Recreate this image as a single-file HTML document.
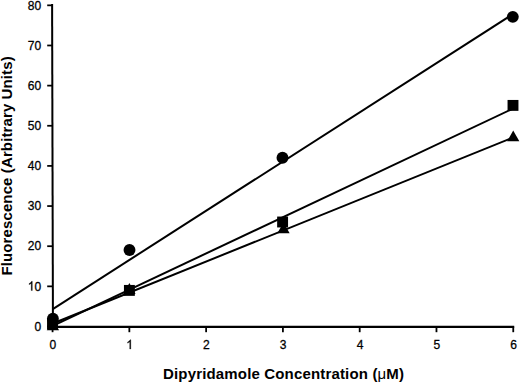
<!DOCTYPE html>
<html><head><meta charset="utf-8"><style>
html,body{margin:0;padding:0;background:#fff;}
body{width:520px;height:383px;overflow:hidden;}
svg{display:block;}
.t{font-family:"Liberation Sans",sans-serif;font-size:13.4px;fill:#000;stroke:#000;stroke-width:0.3px;}
.ti{font-family:"Liberation Sans",sans-serif;font-size:15px;font-weight:bold;fill:#000;}
.mu{font-weight:normal;}
</style></head><body>
<svg width="520" height="383" viewBox="0 0 520 383">
<line x1="52.1" y1="4.1" x2="52.95" y2="327.9" stroke="#000" stroke-width="2.0"/>
<line x1="52" y1="326.85" x2="514.2" y2="326.85" stroke="#000" stroke-width="2.1"/>
<line x1="47.2" y1="326.49" x2="52.97" y2="326.49" stroke="#000" stroke-width="1.75"/>
<text transform="translate(41.2,330.69) scale(0.9,1)" text-anchor="end" class="t">0</text>
<line x1="47.2" y1="286.35" x2="52.86" y2="286.35" stroke="#000" stroke-width="1.75"/>
<text transform="translate(41.2,290.55) scale(0.9,1)" text-anchor="end" class="t">0</text>
<path transform="translate(27.79,290.55) scale(0.005889,-0.006543)" d="M763 0L583 0L583 1102C540 1063 483 1023 413 984C342 945 279 916 223 897L223 1064C324 1110 412 1165 488 1229C563 1294 617 1357 648 1409L763 1409Z" fill="#000" stroke="#000" stroke-width="0.3" vector-effect="non-scaling-stroke"/>
<line x1="47.2" y1="246.20" x2="52.75" y2="246.20" stroke="#000" stroke-width="1.75"/>
<text transform="translate(41.2,250.40) scale(0.9,1)" text-anchor="end" class="t">20</text>
<line x1="47.2" y1="206.06" x2="52.64" y2="206.06" stroke="#000" stroke-width="1.75"/>
<text transform="translate(41.2,210.25) scale(0.9,1)" text-anchor="end" class="t">30</text>
<line x1="47.2" y1="165.91" x2="52.53" y2="165.91" stroke="#000" stroke-width="1.75"/>
<text transform="translate(41.2,170.11) scale(0.9,1)" text-anchor="end" class="t">40</text>
<line x1="47.2" y1="125.77" x2="52.43" y2="125.77" stroke="#000" stroke-width="1.75"/>
<text transform="translate(41.2,129.97) scale(0.9,1)" text-anchor="end" class="t">50</text>
<line x1="47.2" y1="85.62" x2="52.32" y2="85.62" stroke="#000" stroke-width="1.75"/>
<text transform="translate(41.2,89.82) scale(0.9,1)" text-anchor="end" class="t">60</text>
<line x1="47.2" y1="45.48" x2="52.21" y2="45.48" stroke="#000" stroke-width="1.75"/>
<text transform="translate(41.2,49.68) scale(0.9,1)" text-anchor="end" class="t">70</text>
<line x1="47.2" y1="5.33" x2="52.10" y2="5.33" stroke="#000" stroke-width="1.75"/>
<text transform="translate(41.2,9.53) scale(0.9,1)" text-anchor="end" class="t">80</text>
<line x1="52.57" y1="326.49" x2="52.57" y2="332.2" stroke="#000" stroke-width="1.8"/>
<text transform="translate(52.87,349) scale(0.9,1)" text-anchor="middle" class="t">0</text>
<line x1="129.35" y1="326.49" x2="129.35" y2="332.2" stroke="#000" stroke-width="1.8"/>
<path transform="translate(126.30,349.00) scale(0.005889,-0.006543)" d="M763 0L583 0L583 1102C540 1063 483 1023 413 984C342 945 279 916 223 897L223 1064C324 1110 412 1165 488 1229C563 1294 617 1357 648 1409L763 1409Z" fill="#000" stroke="#000" stroke-width="0.3" vector-effect="non-scaling-stroke"/>
<line x1="206.13" y1="326.49" x2="206.13" y2="332.2" stroke="#000" stroke-width="1.8"/>
<text transform="translate(206.43,349) scale(0.9,1)" text-anchor="middle" class="t">2</text>
<line x1="282.91" y1="326.49" x2="282.91" y2="332.2" stroke="#000" stroke-width="1.8"/>
<text transform="translate(283.21,349) scale(0.9,1)" text-anchor="middle" class="t">3</text>
<line x1="359.69" y1="326.49" x2="359.69" y2="332.2" stroke="#000" stroke-width="1.8"/>
<text transform="translate(359.99,349) scale(0.9,1)" text-anchor="middle" class="t">4</text>
<line x1="436.47" y1="326.49" x2="436.47" y2="332.2" stroke="#000" stroke-width="1.8"/>
<text transform="translate(436.77,349) scale(0.9,1)" text-anchor="middle" class="t">5</text>
<line x1="513.25" y1="326.49" x2="513.25" y2="332.2" stroke="#000" stroke-width="1.8"/>
<text transform="translate(513.55,349) scale(0.9,1)" text-anchor="middle" class="t">6</text>
<line x1="52.8" y1="309.05" x2="513.2" y2="13.9" stroke="#000" stroke-width="2"/>
<line x1="52.8" y1="325.8" x2="513.2" y2="108.5" stroke="#000" stroke-width="2"/>
<line x1="52.8" y1="323.5" x2="513.2" y2="137.5" stroke="#000" stroke-width="2"/>
<circle cx="52.9" cy="318.8" r="5.95"/>
<circle cx="129.5" cy="250.0" r="5.95"/>
<circle cx="282.5" cy="157.8" r="5.95"/>
<circle cx="512.8" cy="16.85" r="5.95"/>
<rect x="47.05" y="318.25" width="10.9" height="10.9"/>
<rect x="123.95" y="284.95" width="10.9" height="10.9"/>
<rect x="277.15" y="216.55" width="10.9" height="10.9"/>
<rect x="507.55" y="99.95" width="10.9" height="10.9"/>
<polygon points="52.90,319.5 46.75,330.2 59.05,330.2"/>
<polygon points="129.40,283.0 123.25,294.0 135.55,294.0"/>
<polygon points="283.50,222.6 277.35,233.3 289.65,233.3"/>
<polygon points="513.20,130.6 507.05,141.3 519.35,141.3"/>
<text x="163" y="378.6" textLength="241" lengthAdjust="spacing" class="ti">Dipyridamole Concentration (<tspan class="mu">μ</tspan>M)</text>
<text transform="translate(11.8,275.5) rotate(-90)" x="0" y="0" textLength="219.2" lengthAdjust="spacing" class="ti">Fluorescence (Arbitrary Units)</text>
</svg>
</body></html>
